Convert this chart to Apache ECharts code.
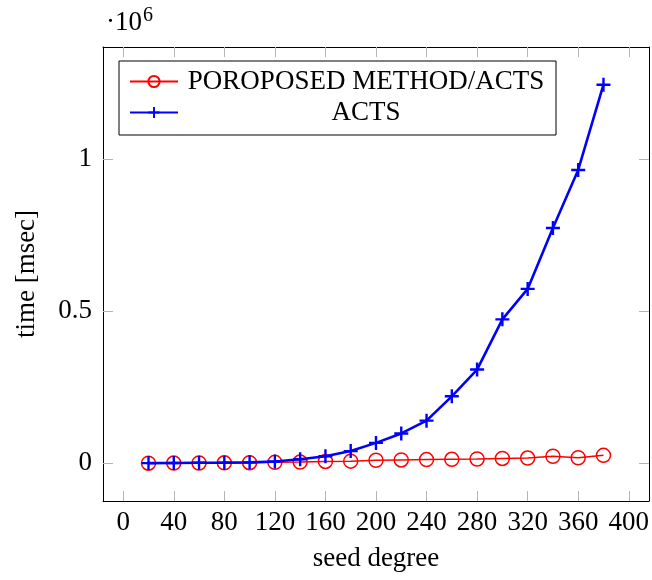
<!DOCTYPE html>
<html>
<head>
<meta charset="utf-8">
<script src="https://cdn.jsdelivr.net/npm/echarts@6/dist/echarts.min.js"></script>
<style>html,body{margin:0;padding:0;background:#fff;}#c{width:652px;height:580px;}</style>
</head>
<body>
<div id="c"></div>
<script>
var seedDegree = [20,40,60,80,100,120,140,160,180,200,220,240,260,280,300,320,340,360,380];
var proposedTime = [300,600,1000,1500,2000,3000,4000,6000,7000,10000,11000,12000,13000,14000,16000,17000,23000,18000,26000];
var actsTime = [500,1000,1500,2000,3000,6000,13000,23000,40000,67000,98000,140000,220000,308000,473000,573000,773000,964000,1244000];
var xTicks = [0,40,80,120,160,200,240,280,320,360,400];
var yTicks = [0,500000,1000000];
var seriesNames = ['POROPOSED METHOD/ACTS','ACTS'];

var FONT = '"Liberation Serif", "DejaVu Serif", serif';
var tickColor = '#b5b5b5';

function pairs(xs, ys){ return xs.map(function(x,i){ return [x, ys[i]]; }); }

var chart = echarts.init(document.getElementById('c'), null, {renderer:'canvas'});
var plusPath = 'path://M-1.2,-7 h2.4 v14 h-2.4 z M-7,-1.2 h14 v2.4 h-14 z';

var baseX = {
  type:'value', min:-16, max:416,
  axisLine:{show:true, onZero:false, lineStyle:{color:'#000', width:1}},
  splitLine:{show:false},
  axisTick:{show:true, inside:true, length:10, lineStyle:{color:tickColor, width:1}, customValues:xTicks},
};
var baseY = {
  type:'value', min:-124000, max:1368000,
  axisLine:{show:true, onZero:false, lineStyle:{color:'#000', width:1}},
  splitLine:{show:false},
  axisTick:{show:true, inside:true, length:10, lineStyle:{color:tickColor, width:1}, customValues:yTicks},
};

var option = {
  backgroundColor:'#fff',
  animation:false,
  grid:{left:103, right:3, top:47, bottom:79, containLabel:false},
  xAxis:[
    Object.assign({}, baseX, {
      position:'bottom',
      name:'seed degree', nameLocation:'middle', nameGap:44,
      nameTextStyle:{fontFamily:FONT, fontSize:27, color:'#000'},
      axisLabel:{show:true, customValues:xTicks, margin:8, fontFamily:FONT, fontSize:27, color:'#000'}
    }),
    Object.assign({}, baseX, {position:'top', axisLabel:{show:false}})
  ],
  yAxis:[
    Object.assign({}, baseY, {
      position:'left',
      name:'time [msec]', nameLocation:'middle', nameGap:63, nameRotate:90,
      nameTextStyle:{fontFamily:FONT, fontSize:27, color:'#000'},
      axisLabel:{show:true, customValues:yTicks, margin:11, fontFamily:FONT, fontSize:27, color:'#000',
        formatter:function(v){ return String(v/1000000); }}
    }),
    Object.assign({}, baseY, {position:'right', axisLabel:{show:false}})
  ],
  legend:{
    left:119, top:61,
    orient:'vertical',
    padding:[7,7,9,10],
    itemGap:4,
    itemWidth:48, itemHeight:14,
    borderColor:'#000', borderWidth:1,
    backgroundColor:'#fff',
    data:seriesNames,
    formatter:function(name){ return '{t|' + name + '}'; },
    textStyle:{
      fontFamily:FONT, fontSize:27, color:'#000',
      rich:{t:{width:366, align:'center', fontFamily:FONT, fontSize:27, lineHeight:30, color:'#000'}}
    }
  },
  graphic:[{
    type:'text', left:106, top:6,
    style:{
      text:'·10{s|6}',
      font:'27px ' + FONT,
      fill:'#000',
      rich:{s:{fontSize:20, fontFamily:FONT, verticalAlign:'top', padding:[0,0,14,1]}}
    }
  }],
  series:[
    {
      name:seriesNames[0], type:'line', xAxisIndex:0, yAxisIndex:0,
      data:pairs(seedDegree, proposedTime),
      lineStyle:{color:'#ff0000', width:1.5},
      symbol:'circle', symbolSize:14,
      itemStyle:{color:'rgba(0,0,0,0)', borderColor:'#ff0000', borderWidth:1.5},
      z:2
    },
    {
      name:seriesNames[1], type:'line', xAxisIndex:0, yAxisIndex:0,
      data:pairs(seedDegree, actsTime),
      lineStyle:{color:'#0000ff', width:2.6},
      symbol:plusPath, symbolSize:14,
      itemStyle:{color:'#0000ff', borderWidth:0},
      z:3
    }
  ]
};
chart.setOption(option);
</script>
</body>
</html>
